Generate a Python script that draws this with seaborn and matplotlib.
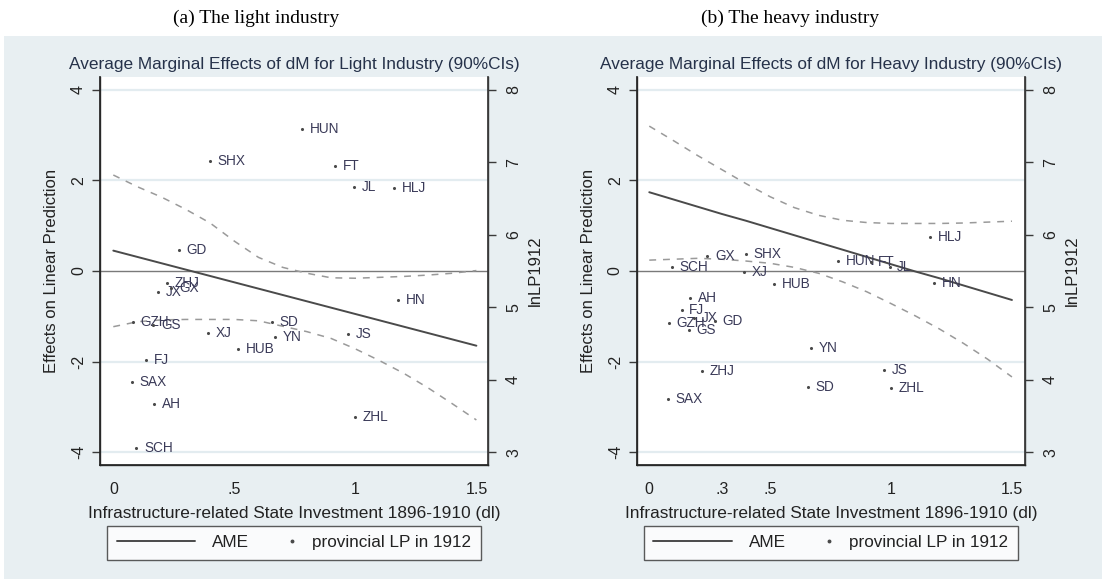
import matplotlib
matplotlib.use("Agg")
import matplotlib.pyplot as plt
import seaborn as sns
from matplotlib.lines import Line2D
from matplotlib.patches import Rectangle
from matplotlib.legend_handler import HandlerBase

# ---- data -------------------------------------------------------------
provinces = ["HUN", "SHX", "FT", "JL", "HLJ", "GD", "ZHJ", "GX", "JX", "HN", "GZH",
             "GS", "SD", "XJ", "YN", "JS", "HUB", "FJ", "SAX", "AH", "ZHL", "SCH"]
dl = [0.78, 0.40, 0.915, 0.994, 1.16, 0.27, 0.22, 0.24, 0.185, 1.178, 0.082,
      0.165, 0.655, 0.393, 0.67, 0.97, 0.515, 0.134, 0.078, 0.168, 1.0, 0.095]
lnlp_light = [7.46, 7.02, 6.955, 6.656, 6.64, 5.79, 5.34, 5.27, 5.21, 5.10, 4.79,
              4.76, 4.80, 4.64, 4.59, 4.63, 4.43, 4.27, 3.97, 3.66, 3.49, 3.06]
lnlp_heavy = [5.64, 5.73, 5.62, 5.56, 5.97, 4.81, 4.12, 5.71, 4.85, 5.34, 4.78,
              4.69, 3.90, 5.48, 4.44, 4.14, 5.32, 4.96, 3.73, 5.13, 3.88, 5.56]

grid_dl = [0.0, 0.1, 0.2, 0.3, 0.4, 0.5, 0.6, 0.7, 0.8, 0.9, 1.0, 1.1, 1.2, 1.3, 1.4, 1.5]
ame_light = [0.45, 0.31, 0.17, 0.03, -0.11, -0.25, -0.39, -0.53, -0.67, -0.81,
             -0.95, -1.09, -1.23, -1.37, -1.51, -1.65]
ci_hi_light = [2.12, 1.86, 1.63, 1.36, 1.06, 0.66, 0.30, 0.08, -0.05, -0.15,
               -0.16, -0.14, -0.12, -0.09, -0.05, 0.01]
ci_lo_light = [-1.23, -1.12, -1.08, -1.07, -1.07, -1.07, -1.10, -1.22, -1.34, -1.49,
               -1.72, -1.98, -2.26, -2.58, -2.93, -3.29]
ame_heavy = [1.74, 1.58, 1.42, 1.26, 1.11, 0.95, 0.79, 0.63, 0.47, 0.31,
             0.15, -0.01, -0.16, -0.32, -0.48, -0.64]
ci_hi_heavy = [3.20, 2.88, 2.55, 2.24, 1.93, 1.64, 1.40, 1.23, 1.12, 1.07,
               1.05, 1.05, 1.05, 1.06, 1.08, 1.10]
ci_lo_heavy = [0.24, 0.26, 0.28, 0.26, 0.22, 0.17, 0.08, -0.05, -0.24, -0.46,
               -0.72, -0.99, -1.28, -1.60, -1.95, -2.34]

x_ticks_light = [0, 0.5, 1, 1.5]
x_labels_light = ["0", ".5", "1", "1.5"]
x_ticks_heavy = [0, 0.3, 0.5, 1, 1.5]
x_labels_heavy = ["0", ".3", ".5", "1", "1.5"]
y_ticks = [-4, -2, 0, 2, 4]
y_labels = ["-4", "-2", "0", "2", "4"]
lp_ticks = [3, 4, 5, 6, 7, 8]
lp_labels = ["3", "4", "5", "6", "7", "8"]

titles = ["Average Marginal Effects of dM for Light Industry (90%CIs)",
          "Average Marginal Effects of dM for Heavy Industry (90%CIs)"]
captions = ["(a) The light industry", "(b) The heavy industry"]
x_title = "Infrastructure-related State Investment 1896-1910 (dl)"
y_title = "Effects on Linear Prediction"
y2_title = "lnLP1912"
legend_labels = ["AME", "provincial LP in 1912"]

# ---- style ------------------------------------------------------------
sns.set_theme(style="white")
plt.rcParams["font.family"] = ["Liberation Sans", "DejaVu Sans"]
plt.rcParams["axes.unicode_minus"] = False

BG = "#e8eff2"
GRID = "#e3ecf0"
AXIS = "#3a3a3a"
TEXT = "#222222"
TITLE = "#26324a"
AME_C = "#4a4a4a"
CI_C = "#9a9a9a"
PT_C = "#4a4a4a"
LBL_C = "#3a3a58"


class DotAtEnd(HandlerBase):
    """Legend handler that puts a single small marker near the right end of the handle box."""
    def create_artists(self, legend, orig_handle, xdescent, ydescent, width, height,
                       fontsize, trans):
        dot = Line2D([-xdescent + 0.96 * width], [height / 2 - ydescent],
                     marker="o", linestyle="none",
                     markersize=orig_handle.get_markersize(),
                     color=orig_handle.get_color(), transform=trans)
        return [dot]


fig = plt.figure(figsize=(11.02, 5.79), dpi=100)
fig.patch.set_facecolor("white")
fig.patches.append(Rectangle((4 / 1102, 0), 1, 1 - 36 / 579, transform=fig.transFigure,
                             facecolor=BG, edgecolor="none", zorder=-5))

W, H = 1102, 579
panels = [
    dict(left=100, right=488, xlim=(-0.055, 1.548), ame=ame_light, hi=ci_hi_light,
         lo=ci_lo_light, lp=lnlp_light, xt=x_ticks_light, xl=x_labels_light,
         title=titles[0], cap=captions[0], capx=256),
    dict(left=636.7, right=1025, xlim=(-0.052, 1.554), ame=ame_heavy, hi=ci_hi_heavy,
         lo=ci_lo_heavy, lp=lnlp_heavy, xt=x_ticks_heavy, xl=x_labels_heavy,
         title=titles[1], cap=captions[1], capx=790),
]
top, bottom = 77, 465
ylim = (-4.285, 4.285)
lp_lim = (3 + (ylim[0] + 4) * 5 / 8, 3 + (ylim[1] + 4) * 5 / 8)

for p in panels:
    ax = fig.add_axes([p["left"] / W, 1 - bottom / H, (p["right"] - p["left"]) / W,
                       (bottom - top) / H])
    ax.set_facecolor("white")
    for yv in y_ticks:
        if yv != 0:
            ax.axhline(yv, color=GRID, linewidth=1.6, zorder=0)
    ax.axhline(0, color="#7a7a7a", linewidth=1.0, zorder=1)

    sns.lineplot(x=grid_dl, y=p["hi"], ax=ax, color=CI_C, linewidth=1.1,
                 linestyle=(0, (4.5, 4.5)), legend=False, zorder=2)
    sns.lineplot(x=grid_dl, y=p["lo"], ax=ax, color=CI_C, linewidth=1.1,
                 linestyle=(0, (4.5, 4.5)), legend=False, zorder=2)
    sns.lineplot(x=grid_dl, y=p["ame"], ax=ax, color=AME_C, linewidth=1.4,
                 legend=False, zorder=3)

    ax.set_xlim(*p["xlim"])
    ax.set_ylim(*ylim)
    ax.set_xticks(p["xt"])
    ax.set_xticklabels(p["xl"])
    ax.set_yticks(y_ticks)
    ax.set_yticklabels(y_labels, rotation=90, va="center")
    ax.tick_params(axis="both", direction="out", length=6, width=1, color=AXIS,
                   labelsize=11.5, labelcolor=TEXT)
    ax.tick_params(axis="x", pad=6)
    ax.tick_params(axis="y", pad=4)
    for side in ["left", "right", "bottom"]:
        ax.spines[side].set_visible(True)
        ax.spines[side].set_color(AXIS)
        ax.spines[side].set_linewidth(1.0)
    ax.spines["top"].set_visible(False)
    ax.set_xlabel(x_title, fontsize=12.4, color=TEXT)
    ax.xaxis.set_label_coords(0.5, -0.105)
    ax.set_ylabel(y_title, fontsize=12, color=TEXT)
    ax.yaxis.set_label_coords(-0.105, 0.5)
    ax.set_title(p["title"], fontsize=12.4, color=TITLE, pad=6)

    ax2 = ax.twinx()
    sns.scatterplot(x=dl, y=p["lp"], ax=ax2, s=5, color=PT_C, linewidth=0,
                    legend=False, zorder=4)
    for name, xv, yv in zip(provinces, dl, p["lp"]):
        ax2.annotate(name, (xv, yv), xytext=(5.5, 0), textcoords="offset points",
                     ha="left", va="center", fontsize=9.8, color=LBL_C)
    ax2.set_ylim(*lp_lim)
    ax2.set_yticks(lp_ticks)
    ax2.set_yticklabels(lp_labels, rotation=90, va="center")
    ax2.tick_params(axis="y", direction="out", length=6, width=1, color=AXIS,
                    labelsize=11.5, labelcolor=TEXT, pad=7)
    ax2.spines["top"].set_visible(False)
    ax2.spines["right"].set_color(AXIS)
    ax2.set_ylabel(y2_title, fontsize=12, color=TEXT)
    ax2.yaxis.set_label_coords(1.102, 0.5)
    ax2.grid(False)
    ax.grid(False)

    h_line = Line2D([], [], color=AME_C, linewidth=1.4)
    h_dot = Line2D([], [], marker="o", linestyle="none", markersize=1.8, color=PT_C)
    leg = ax.legend([h_line, h_dot], legend_labels, loc="upper center",
                    bbox_to_anchor=(0.5, -0.157), ncol=2, fontsize=12.3,
                    handlelength=4.6, handletextpad=1.0, columnspacing=-1.9,
                    borderpad=0.55, borderaxespad=0, frameon=True, fancybox=False,
                    handler_map={h_dot: DotAtEnd()})
    leg.get_frame().set_edgecolor("#333333")
    leg.get_frame().set_linewidth(1.0)
    leg.get_frame().set_facecolor("white")
    for t in leg.get_texts():
        t.set_color(TEXT)

    fig.text(p["capx"] / W, 1 - 18 / H, p["cap"], ha="center", va="center",
             fontsize=14, family=["Liberation Serif", "DejaVu Serif"], color="black")

fig.savefig("out.png", dpi=100)
